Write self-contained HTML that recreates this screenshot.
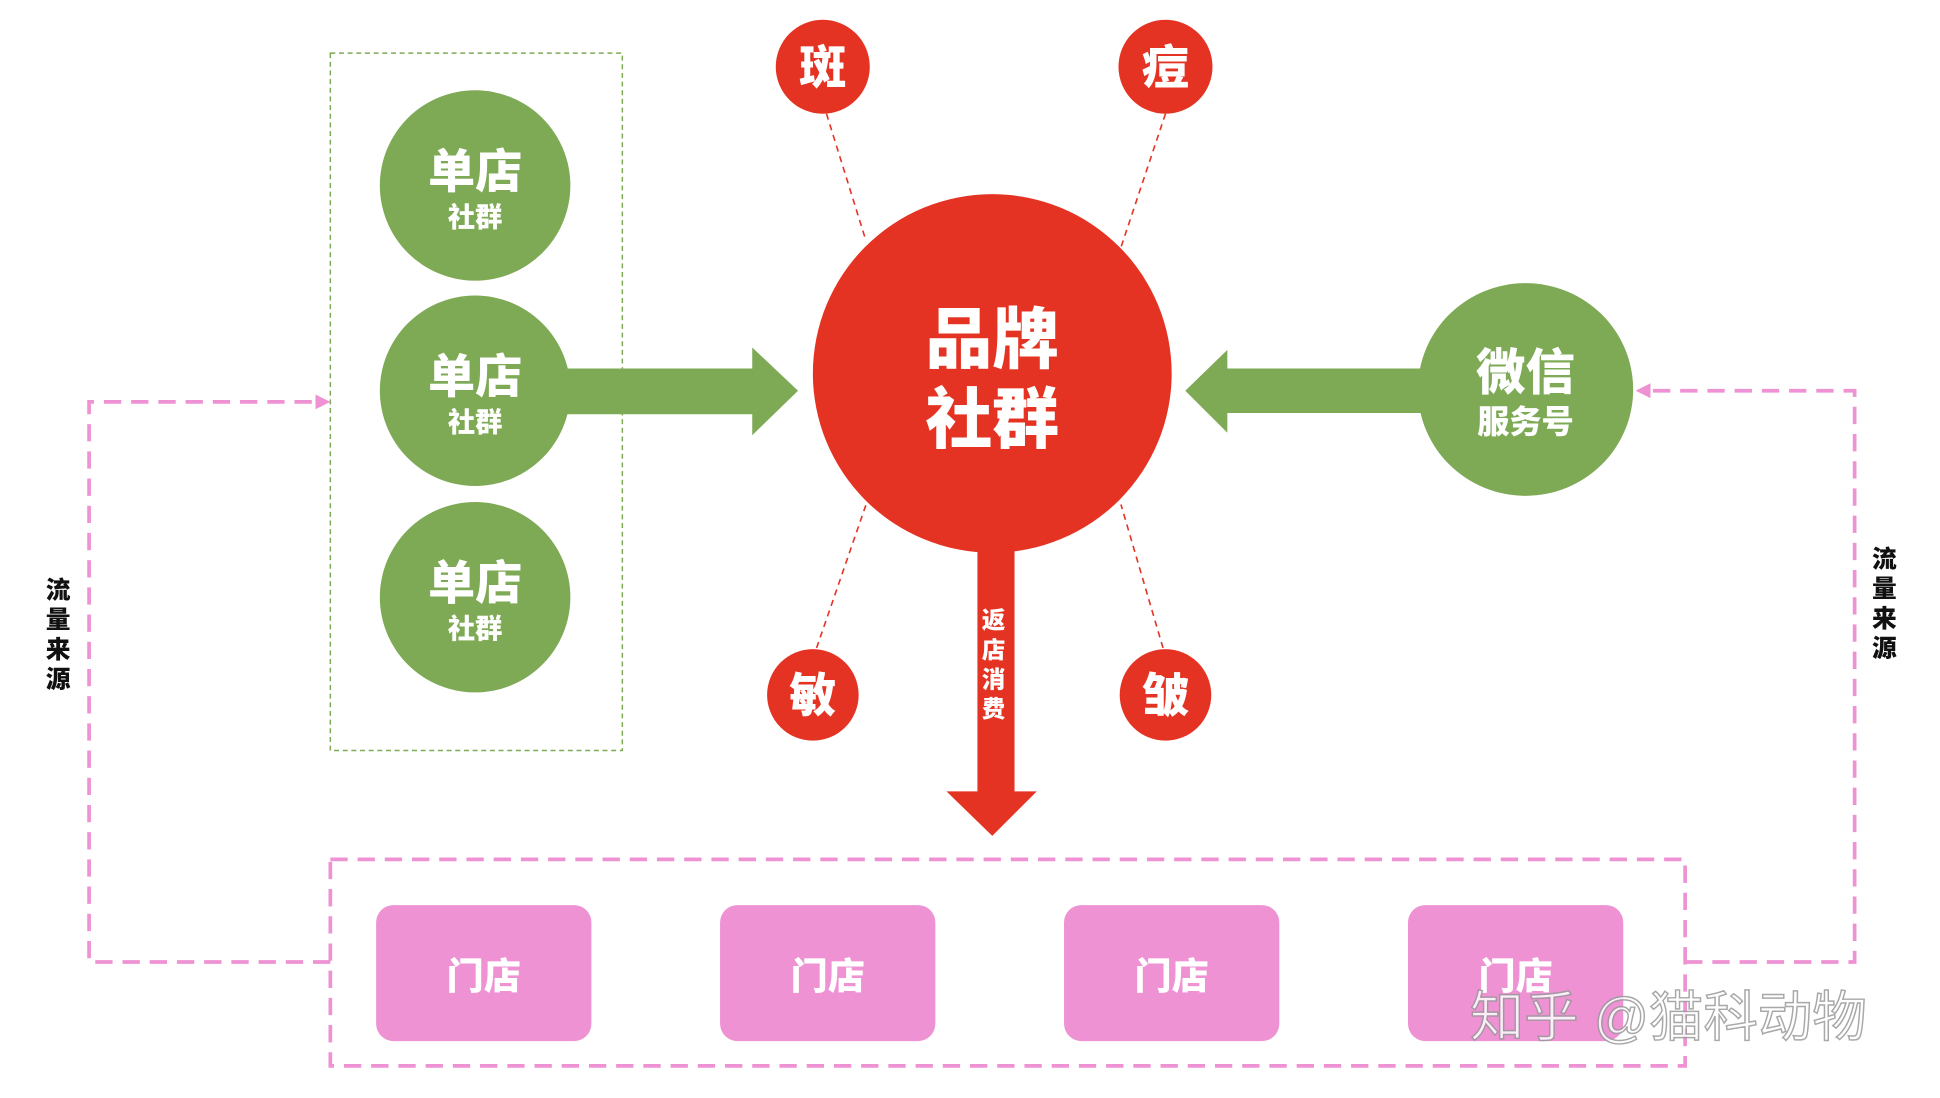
<!DOCTYPE html>
<html><head><meta charset="utf-8"><style>
html,body{margin:0;padding:0;background:#fff;}
svg{display:block;}
text{font-family:"Liberation Sans","Noto Sans CJK SC",sans-serif;font-weight:900;}
</style></head><body>
<svg width="1940" height="1098" viewBox="0 0 1568 888" preserveAspectRatio="none" xmlns="http://www.w3.org/2000/svg">
<rect x="267" y="43" width="236" height="564" fill="none" stroke="#7ea955" stroke-width="1.2" stroke-dasharray="4,3"/>
<!-- red dashed spokes -->
<g stroke="#e53323" stroke-width="1.3" stroke-dasharray="5,4">
<line x1="668" y1="92" x2="700" y2="195"/>
<line x1="942" y1="92" x2="906" y2="200"/>
<line x1="660" y1="524" x2="700" y2="408"/>
<line x1="940" y1="524" x2="906" y2="408"/>
</g>
<!-- green left arrow -->
<polygon points="450,298 608,298 608,281 645,316 608,352 608,335 450,335" fill="#7ea955"/>
<!-- green right arrow -->
<polygon points="1160,298 992,298 992,283 958,316 992,350 992,334 1160,334" fill="#7ea955"/>
<!-- red down arrow -->
<polygon points="790,420 820,420 820,640 838,640 802,676 765,640 790,640" fill="#e53323"/>
<circle cx="802" cy="302" r="145" fill="#e53323"/>
<g fill="#7ea955">
<circle cx="384" cy="150" r="77"/><circle cx="384" cy="316" r="77"/><circle cx="384" cy="483" r="77"/>
<ellipse cx="1233" cy="315" rx="87" ry="86"/>
</g>
<g fill="#e53323">
<circle cx="665" cy="54" r="38"/><circle cx="942" cy="54" r="38"/>
<circle cx="657" cy="562" r="37"/><circle cx="942" cy="562" r="37"/>
</g>
<g fill="#fff" text-anchor="middle">
<text x="384" y="152" font-size="38">单店</text><text x="384" y="183" font-size="22">社群</text>
<text x="384" y="318" font-size="38">单店</text><text x="384" y="349" font-size="22">社群</text>
<text x="384" y="485" font-size="38">单店</text><text x="384" y="516" font-size="22">社群</text>
<text x="802" y="293" font-size="54">品牌</text><text x="802" y="358" font-size="54">社群</text>
<text x="1233" y="315" font-size="40">微信</text><text x="1233" y="350" font-size="26">服务号</text>
<text x="665" y="68" font-size="38">斑</text><text x="942" y="68" font-size="38">痘</text>
<text x="657" y="576" font-size="38">敏</text><text x="942" y="576" font-size="38">皱</text>
<text x="803" y="508" font-size="19">返</text><text x="803" y="532" font-size="19">店</text>
<text x="803" y="556" font-size="19">消</text><text x="803" y="580" font-size="19">费</text>
</g>
<!-- pink -->
<g fill="none" stroke="#ee92d4" stroke-width="3" stroke-dasharray="14,8">
<rect x="267" y="695" width="1095" height="167"/>
<polyline points="267,778 72,778 72,325 258,325"/>
<polyline points="1362,778 1499,778 1499,316 1332,316"/>
</g>
<polygon points="267,325 255,319 255,331" fill="#ee92d4"/>
<polygon points="1322,316 1334,310 1334,322" fill="#ee92d4"/>
<g fill="#ee92d4">
<rect x="304" y="732" width="174" height="110" rx="14"/>
<rect x="582" y="732" width="174" height="110" rx="14"/>
<rect x="860" y="732" width="174" height="110" rx="14"/>
<rect x="1138" y="732" width="174" height="110" rx="14"/>
</g>
<g fill="#fff" text-anchor="middle" font-size="30">
<text x="391" y="800">门店</text><text x="669" y="800">门店</text>
<text x="947" y="800">门店</text><text x="1225" y="800">门店</text>
</g>
<g fill="#111" text-anchor="middle" font-size="20">
<text x="47" y="484">流</text><text x="47" y="508">量</text><text x="47" y="532">来</text><text x="47" y="556">源</text>
<text x="1523" y="459">流</text><text x="1523" y="483">量</text><text x="1523" y="507">来</text><text x="1523" y="531">源</text>
</g>
<text x="1188" y="838" font-size="44" font-weight="400" fill="#fff" stroke="#999" stroke-width="1.2" opacity="0.85" style="font-weight:400">知乎 @猫科动物</text>
</svg>
</body></html>
